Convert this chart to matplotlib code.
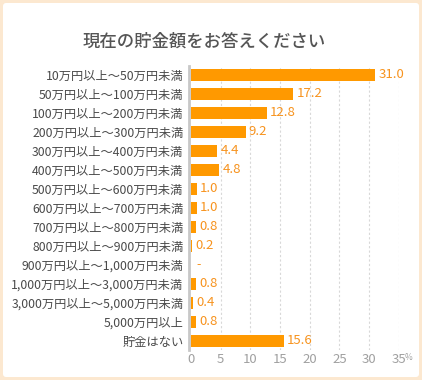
import matplotlib
matplotlib.use("Agg")
import matplotlib.pyplot as plt
from matplotlib.patches import FancyBboxPatch

plt.rcParams['font.family'] = ['Noto Sans CJK JP', 'DejaVu Sans']

title = "現在の貯金額をお答えください"
categories = [
    "10万円以上～50万円未満",
    "50万円以上～100万円未満",
    "100万円以上～200万円未満",
    "200万円以上～300万円未満",
    "300万円以上～400万円未満",
    "400万円以上～500万円未満",
    "500万円以上～600万円未満",
    "600万円以上～700万円未満",
    "700万円以上～800万円未満",
    "800万円以上～900万円未満",
    "900万円以上～1,000万円未満",
    "1,000万円以上～3,000万円未満",
    "3,000万円以上～5,000万円未満",
    "5,000万円以上",
    "貯金はない",
]
values = [31.0, 17.2, 12.8, 9.2, 4.4, 4.8, 1.0, 1.0, 0.8, 0.2, None, 0.8, 0.4, 0.8, 15.6]
xticks = [0, 5, 10, 15, 20, 25, 30, 35]

W, H = 422, 380
fig = plt.figure(figsize=(W / 100, H / 100), dpi=100)
fig.patch.set_facecolor("#fce8d0")

bg = fig.add_axes([0, 0, 1, 1], zorder=-10)
bg.set_axis_off()
bg.set_xlim(0, W)
bg.set_ylim(H, 0)
bg.add_patch(FancyBboxPatch((3, 3), W - 6, H - 6,
                            boxstyle="round,pad=0,rounding_size=3",
                            facecolor="white", edgecolor="none"))

fig.text(204 / W, 1 - 42 / H, title, ha="center", va="center",
         fontsize=12.5, color="#555555", fontweight="medium")

x0, x1 = 191, 398.7
ytop, ybot = 65.5, 350.2
ax = fig.add_axes([x0 / W, 1 - ybot / H, (x1 - x0) / W, (ybot - ytop) / H])
ax.set_facecolor("none")
for s in ["top", "right", "bottom"]:
    ax.spines[s].set_visible(False)
ax.spines["left"].set_position(("outward", 1.5))
ax.spines["left"].set_color("#c8c8c8")
ax.spines["left"].set_linewidth(2)
ax.spines["left"].set_zorder(4)

orange = "#ff9900"
n = len(categories)
ypos = list(range(n))
bar_vals = [v if v is not None else 0 for v in values]
ax.barh(ypos, bar_vals, height=0.63, color=orange, zorder=3)
for y, v in zip(ypos, values):
    if v is None:
        ax.text(0.9, y, "-", ha="left", va="center", fontsize=9, color="#f7931e")
    else:
        ax.text(v + 0.55, y, f"{v:.1f}", ha="left", va="center",
                fontsize=9.5, color="#f7931e")

ax.set_xlim(0, 35)
ax.set_ylim(n - 0.5, -0.5)
ax.set_yticks(ypos)
ax.set_yticklabels(categories, fontsize=8.8, color="#4a4a4a")
ax.set_xticks(xticks)
ax.set_xticklabels([str(t) for t in xticks], fontsize=9.5, color="#a0a0a0")
ax.tick_params(axis="both", length=0)
ax.tick_params(axis="y", pad=4)
ax.tick_params(axis="x", pad=2)
for t in xticks[1:]:
    ax.axvline(t, color="#d8d8d8", linestyle=(0, (2, 2)), linewidth=0.8, zorder=1)

fig.text(405 / W, 1 - 358 / H, "%", fontsize=6, color="#a0a0a0",
         ha="left", va="center")

fig.savefig("out.png", dpi=100, facecolor=fig.get_facecolor())
